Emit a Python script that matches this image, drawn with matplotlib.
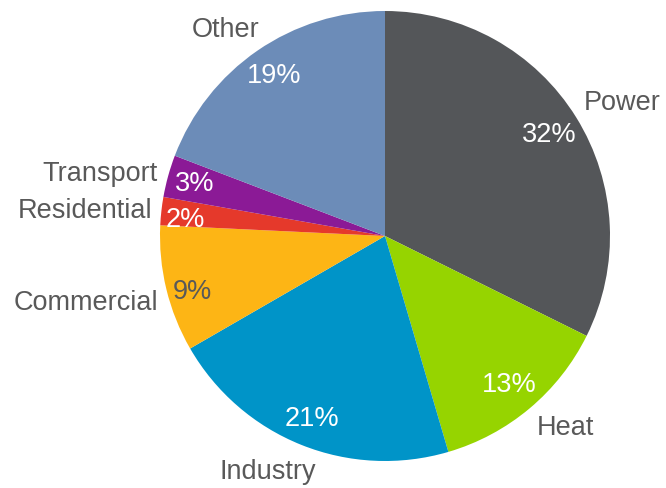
import numpy as np
import matplotlib
matplotlib.use("Agg")
import matplotlib.pyplot as plt

sectors = ["Power", "Heat", "Industry", "Commercial", "Residential", "Transport", "Other"]
shares = [32, 13, 21, 9, 2, 3, 19]
colors = ["#545659", "#96d400", "#0094c8", "#fdb515", "#e5392b", "#8b1a96", "#6c8cb8"]
pct_colors = ["white", "white", "white", "#595959", "white", "white", "white"]

# label placement: radial distance and angular nudge (degrees) per wedge
label_dist = [1.066, 1.085, 1.09, 1.05, 1.04, 1.05, 1.075]
label_nudge = [2.2, -1.5, 5.5, 2.6, 0, 0, -3.4]
pct_dist = [0.86, 0.86, 0.87, 0.89, 0.89, 0.88, 0.87]
pct_nudge = [0, 0, 0, 2.4, 1.5, 0, 0]

plt.rcParams["font.family"] = ["Liberation Sans", "DejaVu Sans"]

W, H = 666, 489
fig = plt.figure(figsize=(W / 100, H / 100), dpi=100)
cx, cy, r = 385, 237, 225
ax = fig.add_axes([(cx - r) / W, (H - cy - r) / H, 2 * r / W, 2 * r / H])

wedges, texts, autotexts = ax.pie(
    shares,
    labels=sectors,
    colors=colors,
    startangle=90,
    counterclock=False,
    labeldistance=1.07,
    pctdistance=0.87,
    autopct=lambda p: f"{p:.0f}%",
    wedgeprops=dict(linewidth=0),
    textprops=dict(fontsize=19.5),
)
for w, t, d, n in zip(wedges, texts, label_dist, label_nudge):
    ang = np.deg2rad((w.theta1 + w.theta2) / 2 + n)
    t.set_position((d * np.cos(ang), d * np.sin(ang)))
    t.set_color("#595959")
for w, t, c, d, n in zip(wedges, autotexts, pct_colors, pct_dist, pct_nudge):
    ang = np.deg2rad((w.theta1 + w.theta2) / 2 + n)
    t.set_position((d * np.cos(ang), d * np.sin(ang)))
    t.set_color(c)

ax.set_xlim(-1, 1)
ax.set_ylim(-1, 1)
ax.set_aspect("equal")
ax.axis("off")

fig.savefig("out.png", dpi=100)
